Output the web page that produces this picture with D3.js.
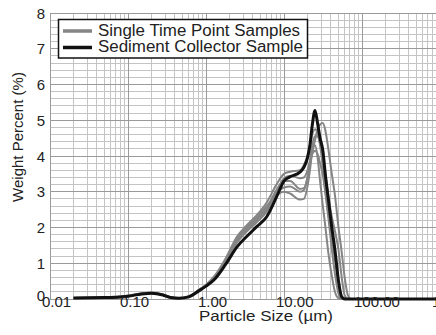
<!DOCTYPE html>
<html>
<head>
<meta charset="utf-8">
<script src="https://cdn.jsdelivr.net/npm/d3@7"></script>
<style>
  body { margin: 0; background: #fff; }
  text { font-family: "Liberation Sans", Arial, sans-serif; fill: #222; }
</style>
</head>
<body>
<div id="chart-area"></div>
<script>
const WIDTH = 436
const HEIGHT = 335
const PLOT = { LEFT: 50, RIGHT: 440, TOP: 13, BOTTOM: 299 }

// particle sizes (µm) shared by every curve
const sizes = [0.02, 0.05, 0.1, 0.15, 0.2, 0.28, 0.35, 0.45, 0.6, 0.8, 1, 1.3, 1.8, 2.5, 3.3, 4.5, 6, 8, 10, 12,
  16, 18, 20, 21.5, 23, 25, 27, 29, 31.5, 34, 37, 41, 45, 50, 55, 60, 66, 72, 80, 100, 1000]

const sediment = [0.03, 0.04, 0.08, 0.14, 0.16, 0.11, 0.04, 0.02, 0.06, 0.22, 0.36, 0.56, 0.98, 1.46, 1.74, 2.03, 2.3, 2.85, 3.3, 3.42,
  3.55, 3.68, 3.95, 4.3, 4.85, 5.27, 4.9, 4.5, 4.15, 3.45, 2.8, 2.0, 1.37, 0.5, 0.06, 0, 0, 0, 0, 0, 0]

const sampleA = [0.03, 0.05, 0.09, 0.15, 0.17, 0.12, 0.05, 0.03, 0.07, 0.24, 0.38, 0.6, 1.05, 1.6, 1.9, 2.2, 2.5, 2.95, 3.12, 3.15,
  3.0, 3.05, 3.4, 3.75, 4.1, 4.45, 4.75, 4.88, 4.92, 4.7, 4.2, 3.5, 2.9, 2.0, 1.3, 0.6, 0.1, 0, 0, 0, 0]
const sampleB = [0.03, 0.04, 0.09, 0.16, 0.18, 0.13, 0.05, 0.02, 0.07, 0.25, 0.4, 0.66, 1.15, 1.75, 2.05, 2.35, 2.7, 3.2, 3.5, 3.56,
  3.6, 3.75, 4.0, 4.3, 4.6, 4.75, 4.65, 4.3, 3.7, 3.0, 2.3, 1.4, 0.7, 0.15, 0, 0, 0, 0, 0, 0, 0]
const sampleC = [0.02, 0.04, 0.08, 0.15, 0.17, 0.12, 0.05, 0.02, 0.06, 0.23, 0.38, 0.62, 1.1, 1.7, 2.0, 2.3, 2.6, 2.9, 3.0, 2.95,
  2.78, 2.8, 3.15, 3.6, 4.1, 4.3, 3.95, 3.3, 2.6, 2.0, 1.3, 0.65, 0.2, 0.02, 0, 0, 0, 0, 0, 0, 0]
const sampleD = [0.03, 0.04, 0.08, 0.14, 0.16, 0.12, 0.04, 0.02, 0.06, 0.23, 0.37, 0.6, 1.05, 1.65, 1.95, 2.25, 2.55, 3.05, 3.3, 3.3,
  3.08, 3.1, 3.4, 3.85, 4.3, 4.55, 4.55, 4.35, 4.0, 3.5, 2.9, 2.3, 1.9, 1.37, 0.6, 0.1, 0, 0, 0, 0, 0]
const sampleE = [0.03, 0.04, 0.08, 0.15, 0.17, 0.11, 0.04, 0.02, 0.06, 0.22, 0.36, 0.58, 1.02, 1.58, 1.88, 2.15, 2.45, 3.0, 3.38, 3.45,
  3.38, 3.4, 3.6, 3.85, 4.05, 4.15, 4.05, 3.8, 3.45, 2.95, 2.35, 1.7, 1.1, 0.45, 0.05, 0, 0, 0, 0, 0, 0]
const samples = [sampleA, sampleB, sampleC, sampleD, sampleE]

const xTicks = [0.01, 0.1, 1, 10, 100, 1000]
const yTicks = [0, 1, 2, 3, 4, 5, 6, 7, 8]
const legendLabels = ["Single Time Point Samples", "Sediment Collector Sample"]

const x = d3.scaleLog()
  .domain([0.01, 1000])
  .range([PLOT.LEFT, PLOT.RIGHT])

const y = d3.scaleLinear()
  .domain([0, 8])
  .range([PLOT.BOTTOM, PLOT.TOP])

const line = d3.line()
  .x(d => x(d[0]))
  .y(d => y(d[1]))
  .curve(d3.curveMonotoneX)

const svg = d3.select("#chart-area").append("svg")
  .attr("width", WIDTH)
  .attr("height", HEIGHT)

// grid: minor log lines + every 0.2 horizontally
const minorX = []
for (let e = -2; e < 3; e++) for (let k = 2; k < 10; k++) minorX.push(k * Math.pow(10, e))
const minorY = d3.range(0, 8.001, 0.2).filter(v => Math.abs(v - Math.round(v)) > 0.01)

const grid = svg.append("g").attr("shape-rendering", "crispEdges")
grid.selectAll(".vminor").data(minorX).join("line")
    .attr("x1", d => x(d)).attr("x2", d => x(d))
    .attr("y1", PLOT.TOP).attr("y2", PLOT.BOTTOM)
    .attr("stroke", "#c4c4c4")
grid.selectAll(".hminor").data(minorY).join("line")
    .attr("class", "hminor")
    .attr("x1", PLOT.LEFT).attr("x2", PLOT.RIGHT)
    .attr("y1", d => y(d)).attr("y2", d => y(d))
    .attr("stroke", "#c4c4c4")
grid.selectAll(".vmajor").data(xTicks).join("line")
    .attr("class", "vmajor")
    .attr("x1", d => x(d)).attr("x2", d => x(d))
    .attr("y1", PLOT.TOP).attr("y2", PLOT.BOTTOM)
    .attr("stroke", "#9a9a9a")
grid.selectAll(".hmajor").data(yTicks).join("line")
    .attr("class", "hmajor")
    .attr("x1", PLOT.LEFT).attr("x2", PLOT.RIGHT)
    .attr("y1", d => y(d)).attr("y2", d => y(d))
    .attr("stroke", "#9a9a9a")

// curves
svg.append("g")
    .attr("fill", "none")
    .attr("stroke", "#858585")
    .attr("stroke-width", 2)
  .selectAll("path")
  .data(samples)
  .join("path")
    .attr("d", s => line(sizes.map((v, i) => [v, s[i]])))

svg.append("path")
    .attr("fill", "none")
    .attr("stroke", "#111")
    .attr("stroke-width", 3)
    .attr("stroke-linejoin", "round")
    .attr("d", line(sizes.map((v, i) => [v, sediment[i]])))

// axes labels
svg.append("g")
    .attr("font-size", 15)
  .selectAll("text")
  .data(xTicks)
  .join("text")
    .attr("x", d => x(d) - 8)
    .attr("y", 307)
    .text(d => d3.format(".2f")(d))

svg.append("g")
    .attr("font-size", 15)
    .attr("text-anchor", "end")
  .selectAll("text")
  .data(yTicks)
  .join("text")
    .attr("x", 45)
    .attr("y", d => y(d) + (d === 0 ? 2 : 5.5))
    .text(d => d)

svg.append("text")
    .attr("x", 266)
    .attr("y", 321)
    .attr("text-anchor", "middle")
    .attr("font-size", 15)
    .attr("textLength", 134)
    .attr("lengthAdjust", "spacingAndGlyphs")
    .text("Particle Size (µm)")

svg.append("text")
    .attr("transform", "translate(23,137) rotate(-90)")
    .attr("text-anchor", "middle")
    .attr("font-size", 15)
    .text("Weight Percent (%)")

// legend
const legend = svg.append("g")
legend.append("rect")
    .attr("x", 58.5).attr("y", 19.5)
    .attr("width", 249).attr("height", 38.5)
    .attr("fill", "#fff")
    .attr("stroke", "#111")
    .attr("stroke-width", 1.5)
legend.selectAll("line")
  .data(legendLabels)
  .join("line")
    .attr("x1", 63).attr("x2", 92)
    .attr("y1", (d, i) => 31 + i * 16.5).attr("y2", (d, i) => 31 + i * 16.5)
    .attr("stroke", (d, i) => i ? "#111" : "#858585")
    .attr("stroke-width", 3.5)
legend.selectAll("text")
  .data(legendLabels)
  .join("text")
    .attr("x", 98)
    .attr("y", (d, i) => 35.5 + i * 16.5)
    .attr("font-size", 16)
    .attr("textLength", (d, i) => i ? 205 : 202)
    .attr("lengthAdjust", "spacingAndGlyphs")
    .text(d => d)
</script>
</body>
</html>
